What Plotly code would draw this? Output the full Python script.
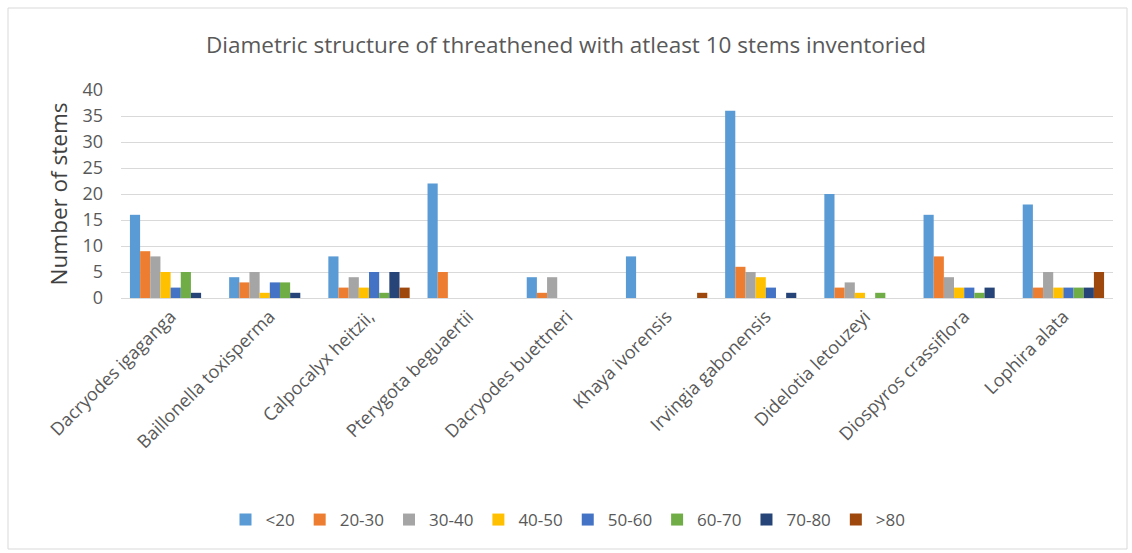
import plotly.graph_objects as go

species = ["Dacryodes igaganga", "Baillonella toxisperma", "Calpocalyx heitzii,",
           "Pterygota beguaertii", "Dacryodes buettneri", "Khaya ivorensis",
           "Irvingia gabonensis", "Didelotia letouzeyi", "Diospyros crassiflora",
           "Lophira alata"]

classes = ["<20", "20-30", "30-40", "40-50", "50-60", "60-70", "70-80", ">80"]

v_lt20  = [16, 4, 8, 22, 4, 8, 36, 20, 16, 18]
v_20_30 = [9, 3, 2, 5, 1, 0, 6, 2, 8, 2]
v_30_40 = [8, 5, 4, 0, 4, 0, 5, 3, 4, 5]
v_40_50 = [5, 1, 2, 0, 0, 0, 4, 1, 2, 2]
v_50_60 = [2, 3, 5, 0, 0, 0, 2, 0, 2, 2]
v_60_70 = [5, 3, 1, 0, 0, 0, 0, 1, 1, 2]
v_70_80 = [1, 1, 5, 0, 0, 0, 1, 0, 2, 2]
v_gt80  = [0, 0, 2, 0, 0, 1, 0, 0, 0, 5]

series = [v_lt20, v_20_30, v_30_40, v_40_50, v_50_60, v_60_70, v_70_80, v_gt80]
colors = ["#5B9BD5", "#ED7D31", "#A5A5A5", "#FFC000", "#4472C4", "#70AD47", "#264478", "#9E480E"]

FONT = "Open Sans"

fig = go.Figure()
for name, vals, col in zip(classes, series, colors):
    fig.add_trace(go.Bar(x=species, y=vals, name=name, marker_color=col,
                         marker_line_width=0))

W, H = 1132, 553
L, R, T, B = 121, 19, 90, 255
pw, ph = W - L - R, H - T - B

def px(x):
    return (x - L) / pw

def py(y):
    return (H - B - y) / ph

fig.update_layout(
    width=W, height=H,
    margin=dict(l=L, r=R, t=T, b=B),
    paper_bgcolor="white", plot_bgcolor="white",
    barmode="group", bargap=0.18, bargroupgap=0,
    font=dict(family=FONT, color="#595959"),
    title=dict(text="Diametric structure of threathened with atleast 10 stems inventoried",
               x=0.5, xanchor="center", y=1 - 45 / H, yanchor="middle",
               font=dict(size=22.5, color="#595959", family=FONT)),
    xaxis=dict(tickangle=-45, tickfont=dict(size=18, color="#595959"),
               showline=True, linecolor="#D9D9D9", linewidth=1,
               showgrid=False, ticks=""),
    yaxis=dict(range=[0, 40], dtick=5, tickfont=dict(size=18, color="#595959"),
               showgrid=True, gridcolor="#D9D9D9", gridwidth=1,
               zeroline=False, showline=False, ticks="", ticklabelstandoff=17,
               title=dict(text="Number of stems", font=dict(size=22.5, color="#404040"),
                          standoff=8)),
    legend=dict(orientation="h", x=px(568), xanchor="center", y=py(520), yanchor="middle",
                font=dict(size=17, color="#595959"), itemwidth=30, traceorder="normal"),
    shapes=[dict(type="rect", xref="paper", yref="paper",
                 x0=px(8), x1=px(1127), y0=py(549), y1=py(8),
                 line=dict(color="#D9D9D9", width=1), fillcolor="rgba(0,0,0,0)",
                 layer="below")],
)

fig.write_html("out.html")
